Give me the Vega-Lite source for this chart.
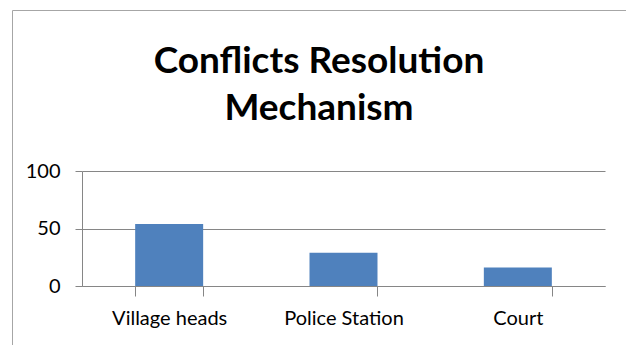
{
  "$schema": "https://vega.github.io/schema/vega-lite/v6.json",
  "autosize": {"type": "none"},
  "padding": {"left": 12, "top": 10, "right": 0, "bottom": 0},
  "width": 614,
  "height": 345,
  "background": "white",
  "title": {
    "text": ["Conflicts Resolution", "Mechanism"],
    "orient": "top",
    "anchor": "middle",
    "offset": -118,
    "font": "Lato",
    "fontSize": 37,
    "fontWeight": "bold",
    "lineHeight": 47,
    "color": "#000000"
  },
  "data": {
    "values": [
      {"mechanism": "Village heads", "share": 54},
      {"mechanism": "Police Station", "share": 29},
      {"mechanism": "Court", "share": 16}
    ]
  },
  "mark": {"type": "bar", "color": "#4F81BD"},
  "encoding": {
    "x": {
      "field": "mechanism",
      "type": "nominal",
      "sort": null,
      "scale": {"range": [70, 593], "paddingInner": 0.61, "paddingOuter": 0.305},
      "axis": {
        "title": null,
        "labelAngle": 0,
        "offset": -69,
        "tickBand": "extent",
        "tickSize": 10,
        "tickColor": "#868686",
        "domainColor": "#868686",
        "labelFont": "Lato",
        "labelFontSize": 20,
        "labelColor": "#000000",
        "labelPadding": 12,
        "grid": false
      }
    },
    "y": {
      "field": "share",
      "type": "quantitative",
      "scale": {"domain": [0, 100], "range": [276, 161], "nice": false},
      "axis": {
        "title": null,
        "values": [0, 50, 100],
        "offset": -70,
        "tickSize": 7,
        "tickColor": "#868686",
        "domainColor": "#868686",
        "gridColor": "#868686",
        "labelFont": "Lato",
        "labelFontSize": 20,
        "labelColor": "#000000",
        "labelPadding": 15
      }
    }
  },
  "config": {
    "view": {"stroke": "#a6a6a6", "strokeWidth": 1}
  }
}
